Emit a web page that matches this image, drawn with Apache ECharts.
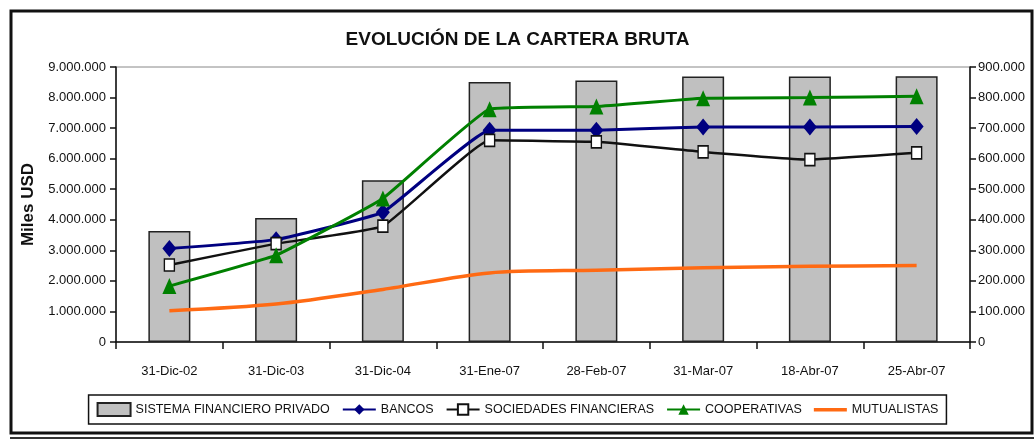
<!DOCTYPE html>
<html>
<head>
<meta charset="utf-8">
<script src="https://cdn.jsdelivr.net/npm/echarts@6/dist/echarts.min.js"></script>
<style>
  html, body { margin: 0; padding: 0; background: #fff; }
  #chart { width: 1035px; height: 440px; }
</style>
</head>
<body>
<div id="chart"></div>
<script>
// fechas de corte
var categories = ['31-Dic-02', '31-Dic-03', '31-Dic-04', '31-Ene-07', '28-Feb-07', '31-Mar-07', '18-Abr-07', '25-Abr-07'];
// miles USD
var sistemaPrivado = [3630000, 4060000, 5290000, 8510000, 8560000, 8690000, 8690000, 8700000];
var bancos = [3060000, 3350000, 4250000, 6930000, 6930000, 7040000, 7040000, 7050000];
// eje derecho
var sociedades = [252000, 322000, 379000, 660000, 655000, 622000, 597000, 619000];
var cooperativas = [183000, 284000, 470000, 762000, 771000, 798000, 800000, 804000];
var mutualistas = [102000, 124000, 172000, 226000, 235000, 243000, 248000, 250000];

var FONT = '"Liberation Sans", Arial, sans-serif';

function miles(v) {
  return String(v).replace(/\B(?=(\d{3})+(?!\d))/g, '.');
}

var chart = echarts.init(document.getElementById('chart'));
chart.setOption({
  backgroundColor: '#fff',
  animation: false,
  textStyle: { fontFamily: FONT },
  title: {
    text: 'EVOLUCIÓN DE LA CARTERA BRUTA',
    left: 'center',
    top: 25,
    textStyle: { fontFamily: FONT, fontWeight: 'bold', fontSize: 19, color: '#111' }
  },
  graphic: [
    { type: 'rect', shape: { x: 11, y: 11, width: 1021, height: 422 }, style: { fill: 'none', stroke: '#111', lineWidth: 3 } },
    { type: 'line', shape: { x1: 10, y1: 438, x2: 1034, y2: 438 }, style: { stroke: '#333', lineWidth: 2 } }
  ],
  legend: {
    left: 'center',
    top: 395,
    padding: [7, 8],
    itemGap: 12,
    itemWidth: 33,
    itemHeight: 13,
    borderColor: '#111',
    borderWidth: 1.5,
    textStyle: { fontFamily: FONT, fontSize: 12.5, color: '#111' },
    data: [
      { name: 'SISTEMA FINANCIERO PRIVADO', icon: 'rect' },
      'BANCOS',
      'SOCIEDADES FINANCIERAS',
      'COOPERATIVAS',
      { name: 'MUTUALISTAS', icon: 'path://M0,0L0.1,0L0,0.1Z M0,5H33V8.5H0Z M0,13L0.1,13L0,12.9Z' }
    ]
  },
  grid: { left: 116, right: 65, top: 67, bottom: 98, show: true, borderColor: '#888', borderWidth: 1 },
  xAxis: {
    type: 'category',
    data: categories,
    axisLine: { lineStyle: { color: '#111', width: 1.5 } },
    axisTick: { show: true, length: 7, lineStyle: { color: '#111', width: 1.5 } },
    axisLabel: { margin: 23, fontSize: 13, color: '#111', fontFamily: FONT }
  },
  yAxis: [
    {
      type: 'value',
      min: 0, max: 9000000, interval: 1000000,
      name: 'Miles USD',
      nameLocation: 'middle',
      nameGap: 64,
      nameRotate: 90,
      nameTextStyle: { fontFamily: FONT, fontWeight: 'bold', fontSize: 17, color: '#111' },
      axisLine: { show: true, lineStyle: { color: '#111', width: 1.5 } },
      axisTick: { show: true, length: 6, lineStyle: { color: '#111', width: 1.5 } },
      splitLine: { show: false },
      axisLabel: { margin: 10, fontSize: 13, color: '#111', fontFamily: FONT, formatter: miles }
    },
    {
      type: 'value',
      min: 0, max: 900000, interval: 100000,
      axisLine: { show: true, lineStyle: { color: '#111', width: 1.5 } },
      axisTick: { show: true, length: 6, lineStyle: { color: '#111', width: 1.5 } },
      splitLine: { show: false },
      axisLabel: { margin: 8, fontSize: 13, color: '#111', fontFamily: FONT, formatter: miles }
    }
  ],
  series: [
    {
      name: 'SISTEMA FINANCIERO PRIVADO',
      type: 'bar',
      yAxisIndex: 0,
      barWidth: 42,
      itemStyle: { color: '#c0c0c0', borderColor: '#222', borderWidth: 1.5 },
      data: sistemaPrivado
    },
    {
      name: 'BANCOS',
      type: 'line',
      yAxisIndex: 0,
      smooth: 0.1,
      symbol: 'diamond',
      symbolSize: [14, 17],
      lineStyle: { color: '#000080', width: 3 },
      itemStyle: { color: '#000080' },
      data: bancos
    },
    {
      name: 'SOCIEDADES FINANCIERAS',
      type: 'line',
      yAxisIndex: 1,
      smooth: 0.1,
      symbol: 'rect',
      symbolSize: [10, 12],
      lineStyle: { color: '#111', width: 2.5 },
      itemStyle: { color: '#fff', borderColor: '#111', borderWidth: 1.5 },
      data: sociedades
    },
    {
      name: 'COOPERATIVAS',
      type: 'line',
      yAxisIndex: 1,
      smooth: 0.1,
      symbol: 'triangle',
      symbolSize: [14, 16],
      lineStyle: { color: '#008000', width: 3 },
      itemStyle: { color: '#008000' },
      data: cooperativas
    },
    {
      name: 'MUTUALISTAS',
      type: 'line',
      yAxisIndex: 1,
      smooth: 0.3,
      showSymbol: false,
      symbol: 'none',
      lineStyle: { color: '#ff6a13', width: 3.5 },
      itemStyle: { color: '#ff6a13' },
      data: mutualistas
    }
  ]
});
</script>
</body>
</html>
